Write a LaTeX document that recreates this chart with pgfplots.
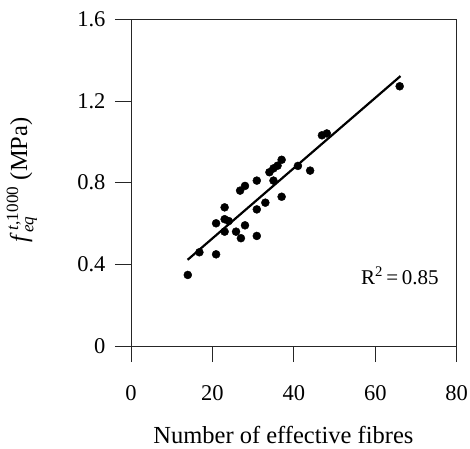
\documentclass[border=0pt]{standalone}
\usepackage{fontspec}
\usepackage{amsmath}
\setmainfont{Liberation Serif}
\usepackage{pgfplots}
\pgfplotsset{compat=1.18}
\begin{document}
\begin{tikzpicture}
\path[use as bounding box] (-131bp,-103bp) rectangle (339bp,346bp);
\begin{axis}[
  at={(0,0)}, anchor=south west,
  scale only axis,
  width=325.7bp, height=326.7bp,
  xmin=0, xmax=80, ymin=0, ymax=1.6,
  xtick={0,20,40,60,80}, xticklabels={0,20,40,60,80},
  ytick={0,0.4,0.8,1.2,1.6}, yticklabels={0,0.4,0.8,1.2,1.6},
  tick align=outside, major tick length=16bp,
  xtick pos=bottom, ytick pos=left,
  axis line style={line width=0.9bp, black!85},
  tick style={line width=0.9bp, black!85},
  tick label style={font=\fontsize{22.5bp}{24bp}\selectfont},
  xticklabel style={yshift=-20bp},
  yticklabel style={xshift=-6bp},
  xlabel={Number of effective fibres},
  ylabel={\textit{f}$_{\text{\textit{eq}}}^{\,\text{\textit{t},1000}}$ (MPa)},
  label style={font=\fontsize{24.5bp}{26bp}\selectfont},
  xlabel style={at={(axis description cs:0.468,-0.272)}, anchor=center},
  ylabel style={at={(axis description cs:-0.335,0.508)}, anchor=center},
  clip=false,
]
\addplot[only marks, mark=*, mark size=4bp, black] coordinates {
(13.95,0.348) (16.8,0.459) (20.9,0.449) (20.9,0.601) (23.0,0.679)
(23.0,0.621) (24.0,0.612) (23.0,0.560) (25.8,0.560) (27.0,0.528)
(28.0,0.591) (30.9,0.539) (30.9,0.669) (33.0,0.702) (26.8,0.761)
(28.0,0.784) (30.9,0.810) (35.0,0.810) (37.0,0.731) (34.0,0.851)
(35.0,0.870) (36.0,0.883) (37.0,0.912) (41.0,0.882) (44.0,0.859)
(46.9,1.032) (48.1,1.041) (66.0,1.272)
};
\addplot[black, line width=2.2bp] coordinates {(13.9,0.422) (66.2,1.322)};
\node[anchor=east, font=\fontsize{21bp}{22bp}\selectfont] at (axis cs:76.4,0.343) {R\textsuperscript{2}\,=\,0.85};
\end{axis}
\end{tikzpicture}
\end{document}
